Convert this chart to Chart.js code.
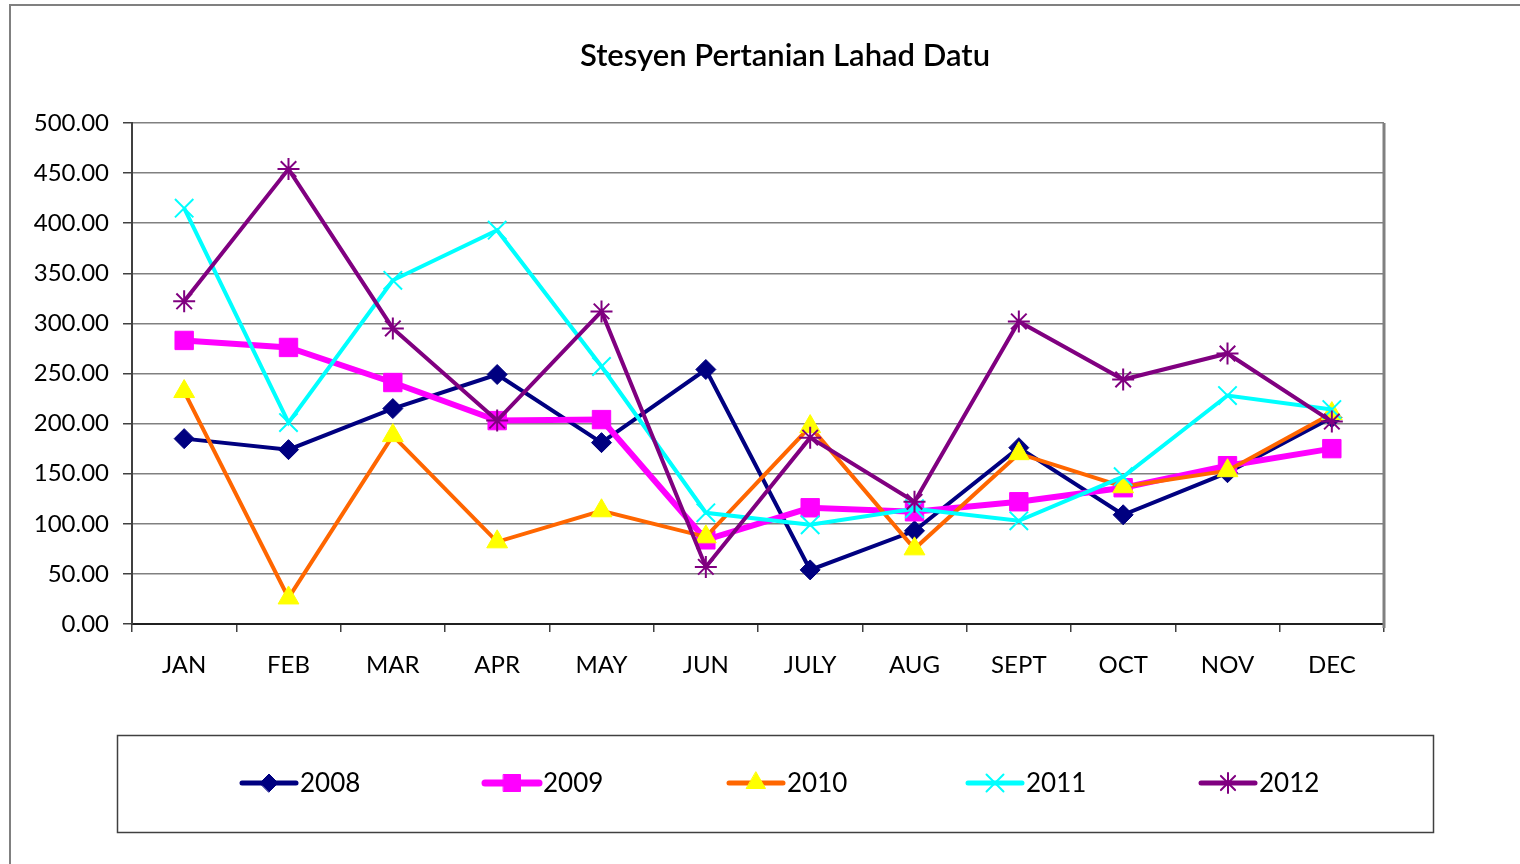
<!DOCTYPE html>
<html>
<head>
<meta charset="utf-8">
<script src="https://cdn.jsdelivr.net/npm/chart.js@4.4.0/dist/chart.umd.min.js"></script>
<style>
html, body { margin: 0; padding: 0; background: #fff; overflow: hidden; }
</style>
</head>
<body>
<canvas id="myChart1" width="1520" height="864"></canvas>
<script>
const months = ['JAN', 'FEB', 'MAR', 'APR', 'MAY', 'JUN', 'JULY', 'AUG', 'SEPT', 'OCT', 'NOV', 'DEC'];
const y2008 = [185, 174, 215, 249, 181, 254, 54, 93, 176, 109, 151, 206];
const y2009 = [283, 276, 241, 203, 204, 84, 116, 112, 122, 136, 158, 175];
const y2010 = [232, 26, 188, 82, 113, 87, 197, 75, 170, 137, 153, 210];
const y2011 = [415, 201, 343, 393, 257, 111, 99, 115, 103, 147, 228, 214];
const y2012 = [322, 454, 295, 203, 312, 57, 186, 122, 302, 244, 270, 202];

const chartTitle = 'Stesyen Pertanian Lahad Datu';
const FONT = 'Lato, "Noto Sans", sans-serif';
const legendX = [242, 485, 729, 968, 1201];

function series(label, data, line, fill, style, radius, width, order) {
    return {
        label: label,
        data: data,
        borderColor: line,
        backgroundColor: fill,
        borderWidth: width,
        pointStyle: style,
        pointRadius: radius,
        pointHoverRadius: radius,
        pointBackgroundColor: fill,
        pointBorderColor: fill,
        pointBorderWidth: (style === 'crossRot' || style === 'star') ? 2 : 1,
        tension: 0,
        order: order
    };
}

// frame, title, plot border and legend box
const framePlugin = {
    id: 'frame',
    beforeDraw(chart) {
        const c = chart.ctx;
        c.save();
        c.fillStyle = '#fff';
        c.fillRect(0, 0, chart.width, chart.height);
        c.strokeStyle = '#808080';
        c.lineWidth = 2;
        c.strokeRect(10, 5, chart.width + 20, chart.height + 20);

        c.fillStyle = '#000';
        c.font = '600 31px ' + FONT;
        c.textAlign = 'center';
        c.textBaseline = 'middle';
        c.fillText(chartTitle, 785, 56);
        c.restore();
    },
    afterDraw(chart) {
        const c = chart.ctx;
        const a = chart.chartArea;
        c.save();
        c.strokeStyle = '#808080';
        c.lineWidth = 3;
        c.beginPath();
        c.moveTo(a.right, a.top);
        c.lineTo(a.right, a.bottom + 4);
        c.stroke();

        // legend
        c.lineWidth = 1.5;
        c.strokeStyle = '#404040';
        c.strokeRect(117.5, 735.5, 1316, 97);
        const ly = 783;
        chart.data.datasets.forEach((ds, i) => {
            const x0 = legendX[i];
            c.strokeStyle = ds.borderColor;
            c.lineWidth = ds.borderWidth + 1;
            c.lineCap = 'round';
            c.beginPath();
            c.moveTo(x0, ly);
            c.lineTo(x0 + 54, ly);
            c.stroke();
            c.fillStyle = ds.pointBackgroundColor;
            c.strokeStyle = ds.pointBorderColor;
            c.lineWidth = ds.pointBorderWidth;
            Chart.helpers.drawPoint(c, {
                pointStyle: ds.pointStyle,
                radius: ds.pointRadius - 1,
                rotation: 0,
                borderWidth: ds.pointBorderWidth
            }, x0 + 27, ly);
            c.fillStyle = '#000';
            c.font = '26px ' + FONT;
            c.textBaseline = 'middle';
            c.textAlign = 'left';
            c.fillText(ds.label, x0 + 58, ly + 1);
        });
        c.restore();
    }
};

new Chart(document.getElementById('myChart1'), {
    type: 'line',
    data: {
        labels: months,
        datasets: [
            series('2008', y2008, '#000080', '#000080', 'rectRot', 10, 4, 5),
            series('2009', y2009, '#ff00ff', '#ff00ff', 'rect', 13, 6, 4),
            series('2010', y2010, '#ff6600', '#ffff00', 'triangle', 12, 4, 3),
            series('2011', y2011, '#00ffff', '#00ffff', 'crossRot', 13, 4, 2),
            series('2012', y2012, '#800080', '#800080', 'star', 11, 4, 1)
        ]
    },
    options: {
        responsive: false,
        animation: false,
        layout: { padding: { left: 22, right: 136, top: 123, bottom: 180 } },
        plugins: {
            legend: { display: false },
            tooltip: { enabled: false },
            title: { display: false }
        },
        scales: {
            x: {
                offset: true,
                afterFit(s) { s.height = 60; },
                grid: { drawOnChartArea: false, drawTicks: true, tickLength: 8, tickColor: '#404040', lineWidth: 1.5, offset: true },
                border: { color: '#202020', width: 2 },
                ticks: { color: '#000', padding: 19, font: { family: FONT, size: 24 } }
            },
            y: {
                min: 0,
                max: 500,
                afterFit(s) { s.width = 110; },
                grid: { color: '#808080', lineWidth: 1.5, tickLength: 9, tickColor: '#404040' },
                border: { color: '#404040', width: 2 },
                ticks: {
                    stepSize: 50,
                    color: '#000',
                    padding: 14,
                    font: { family: FONT, size: 24 },
                    callback: v => v.toFixed(2)
                }
            }
        }
    },
    plugins: [framePlugin]
});
</script>
</body>
</html>
